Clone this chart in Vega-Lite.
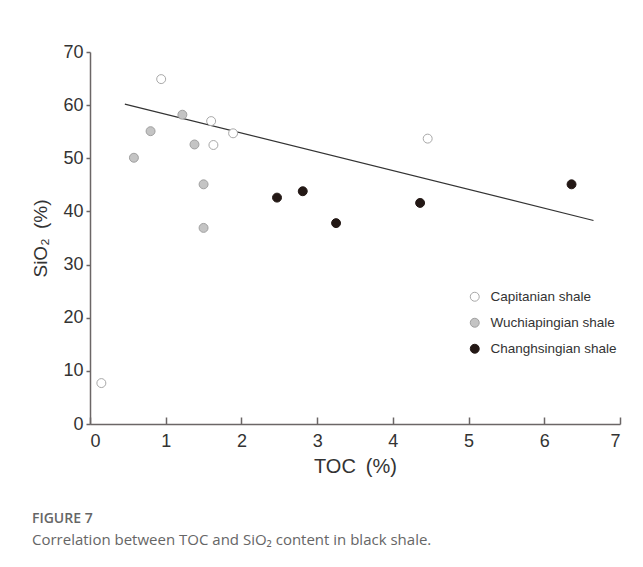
{
  "$schema": "https://vega.github.io/schema/vega-lite/v6.json",
  "width": 530,
  "height": 372,
  "autosize": "none",
  "padding": {"left": 90, "top": 52, "right": 23, "bottom": 143},
  "background": "white",
  "config": {
    "view": {"stroke": null},
    "font": "Liberation Sans"
  },
  "title": {
    "text": "FIGURE 7",
    "subtitle": "Correlation between TOC and SiO₂ content in black shale.",
    "orient": "bottom",
    "anchor": "start",
    "frame": "bounds",
    "offset": 36,
    "font": "Open Sans",
    "fontSize": 14,
    "fontWeight": 600,
    "color": "#666666",
    "subtitleFont": "Open Sans",
    "subtitleFontSize": 15,
    "subtitleFontWeight": "normal",
    "subtitleColor": "#666666",
    "subtitlePadding": 7
  },
  "layer": [
    {
      "data": {"values": [{"TOC": 0.46, "SiO2": 60.2}, {"TOC": 6.65, "SiO2": 38.3}]},
      "mark": {"type": "line", "color": "#333333", "strokeWidth": 1.2},
      "encoding": {
        "x": {"field": "TOC", "type": "quantitative"},
        "y": {"field": "SiO2", "type": "quantitative"}
      }
    },
    {
      "data": {"values": [
        {"group": "Capitanian shale", "TOC": 0.15, "SiO2": 7.7},
        {"group": "Capitanian shale", "TOC": 0.94, "SiO2": 64.9},
        {"group": "Capitanian shale", "TOC": 1.60, "SiO2": 57.0},
        {"group": "Capitanian shale", "TOC": 1.63, "SiO2": 52.5},
        {"group": "Capitanian shale", "TOC": 1.89, "SiO2": 54.7},
        {"group": "Capitanian shale", "TOC": 4.46, "SiO2": 53.7},
        {"group": "Wuchiapingian shale", "TOC": 0.58, "SiO2": 50.1},
        {"group": "Wuchiapingian shale", "TOC": 0.80, "SiO2": 55.1},
        {"group": "Wuchiapingian shale", "TOC": 1.22, "SiO2": 58.2},
        {"group": "Wuchiapingian shale", "TOC": 1.38, "SiO2": 52.6},
        {"group": "Wuchiapingian shale", "TOC": 1.50, "SiO2": 45.1},
        {"group": "Wuchiapingian shale", "TOC": 1.50, "SiO2": 36.9},
        {"group": "Changhsingian shale", "TOC": 2.47, "SiO2": 42.6},
        {"group": "Changhsingian shale", "TOC": 2.81, "SiO2": 43.8},
        {"group": "Changhsingian shale", "TOC": 3.25, "SiO2": 37.8},
        {"group": "Changhsingian shale", "TOC": 4.36, "SiO2": 41.6},
        {"group": "Changhsingian shale", "TOC": 6.36, "SiO2": 45.1}
      ]},
      "mark": {"type": "point", "shape": "circle", "filled": true, "size": 80, "strokeWidth": 1, "opacity": 1},
      "encoding": {
        "x": {
          "field": "TOC", "type": "quantitative",
          "scale": {"domain": [0, 7], "nice": false, "zero": false},
          "axis": {
            "title": "TOC\u2002(%)",
            "values": [0, 1, 2, 3, 4, 5, 6, 7],
            "format": "d",
            "grid": false,
            "tickSize": -7,
            "tickWidth": 1.5,
            "tickColor": "#6b6666",
            "domainColor": "#6b6666",
            "domainWidth": 1.5,
            "labelFont": "Liberation Sans",
            "labelFontSize": 18,
            "labelColor": "#333333",
            "labelPadding": 15,
            "titleFont": "Liberation Sans",
            "titleFontSize": 20,
            "titleFontWeight": "normal",
            "titleColor": "#333333",
            "titlePadding": 6
          }
        },
        "y": {
          "field": "SiO2", "type": "quantitative",
          "scale": {"domain": [0, 70], "nice": false, "zero": true},
          "axis": {
            "title": "SiO₂\u2002(%)",
            "values": [0, 10, 20, 30, 40, 50, 60, 70],
            "grid": false,
            "tickSize": 4,
            "tickWidth": 1.5,
            "tickColor": "#6b6666",
            "domainColor": "#6b6666",
            "domainWidth": 1.5,
            "labelFont": "Liberation Sans",
            "labelFontSize": 18,
            "labelColor": "#333333",
            "labelPadding": 3,
            "titleFont": "Liberation Sans",
            "titleFontSize": 19,
            "titleFontWeight": "normal",
            "titleColor": "#333333",
            "titlePadding": 12
          }
        },
        "fill": {
          "field": "group", "type": "nominal",
          "scale": {
            "domain": ["Capitanian shale", "Wuchiapingian shale", "Changhsingian shale"],
            "range": ["#ffffff", "#c4c4c4", "#231815"]
          },
          "legend": {
            "title": null,
            "orient": "none",
            "legendX": 378,
            "legendY": 238,
            "symbolSize": 80,
            "symbolStrokeWidth": 1,
            "labelFont": "Liberation Sans",
            "labelFontSize": 13.5,
            "labelColor": "#333333",
            "labelOffset": 9,
            "rowPadding": 11,
            "padding": 0
          }
        },
        "stroke": {
          "field": "group", "type": "nominal",
          "scale": {
            "domain": ["Capitanian shale", "Wuchiapingian shale", "Changhsingian shale"],
            "range": ["#a8a8a8", "#a0a0a0", "#231815"]
          },
          "legend": {
            "title": null,
            "orient": "none",
            "legendX": 378,
            "legendY": 238,
            "symbolSize": 80,
            "symbolStrokeWidth": 1,
            "labelFont": "Liberation Sans",
            "labelFontSize": 13.5,
            "labelColor": "#333333",
            "labelOffset": 9,
            "rowPadding": 11,
            "padding": 0
          }
        }
      }
    }
  ]
}
